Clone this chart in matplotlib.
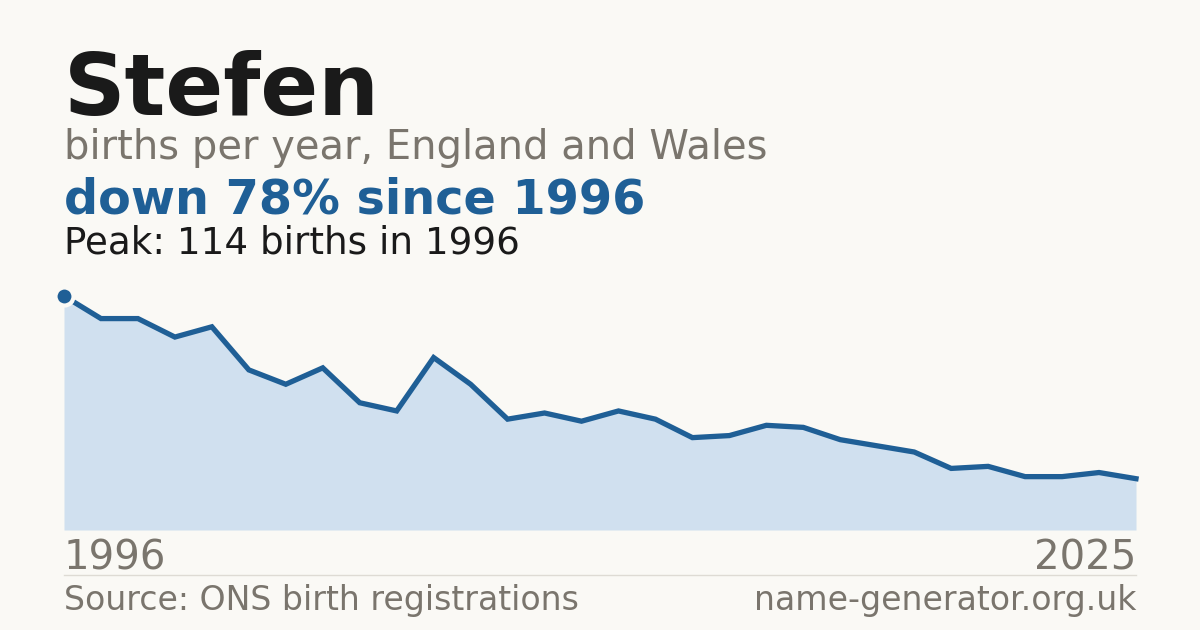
#!/usr/bin/env python3
"""Births per year for the name Stefen, England and Wales, 1996-2025."""
import matplotlib
matplotlib.use('Agg')
import matplotlib.pyplot as plt

years = list(range(1996, 2026))
births = [114, 103, 103, 94, 99, 78, 71, 79, 62, 58,
          84, 71, 54, 57, 53, 58, 54, 45, 46, 51,
          50, 44, 41, 38, 30, 31, 26, 26, 28, 25]

name = 'Stefen'
subtitle = 'births per year, England and Wales'
headline = 'down 78% since 1996'
peak_note = 'Peak: 114 births in 1996'
source = 'Source: ONS birth registrations'
site = 'name-generator.org.uk'

BG = '#faf9f5'
BLUE = '#1f5f96'
FILL = '#d0e0ef'
GREY = '#7a756d'
DARK = '#1a1a1a'

W, H = 1200, 630
fig = plt.figure(figsize=(W / 100, H / 100), dpi=100, facecolor=BG)


def fx(px):
    return px / W


def fy(py):
    return 1 - py / H


# plot area: 1996 at x=64, 2025 at x=1136, zero at y=530, peak at y=296
ax = fig.add_axes([fx(64), fy(530), fx(1136 - 64), (530 - 296) / H])
ax.set_facecolor(BG)
ax.fill_between(years, births, 0, color=FILL, lw=0)
ax.plot(years, births, color=BLUE, lw=3.8, solid_joinstyle='miter', clip_on=False)
ax.plot(years[0], births[0], 'o', ms=13, color=BLUE, mec=BG, mew=3,
        clip_on=False, zorder=5)
ax.set_xlim(years[0], years[-1])
ax.set_ylim(0, max(births))
ax.axis('off')

fig.text(fx(64), fy(115), name, fontsize=61.5, fontweight='bold', color=DARK,
         ha='left', va='baseline')
fig.text(fx(64), fy(159), subtitle, fontsize=28.8, color=GREY,
         ha='left', va='baseline')
fig.text(fx(64), fy(214), headline, fontsize=34.4, fontweight='bold', color=BLUE,
         ha='left', va='baseline')
fig.text(fx(64), fy(253), peak_note, fontsize=26.8, color=DARK,
         ha='left', va='baseline')

fig.text(fx(64), fy(570), str(years[0]), fontsize=29, color=GREY,
         ha='left', va='baseline')
fig.text(fx(1136), fy(570), str(years[-1]), fontsize=29, color=GREY,
         ha='right', va='baseline')

fig.add_artist(plt.Line2D([fx(64), fx(1136)], [fy(574.5), fy(574.5)],
                          color='#dedbd4', lw=1))

fig.text(fx(64), fy(610), source, fontsize=23.9, color=GREY,
         ha='left', va='baseline')
fig.text(fx(1136), fy(610), site, fontsize=23.9, color=GREY,
         ha='right', va='baseline')

fig.savefig('out.png', dpi=100, facecolor=BG)
